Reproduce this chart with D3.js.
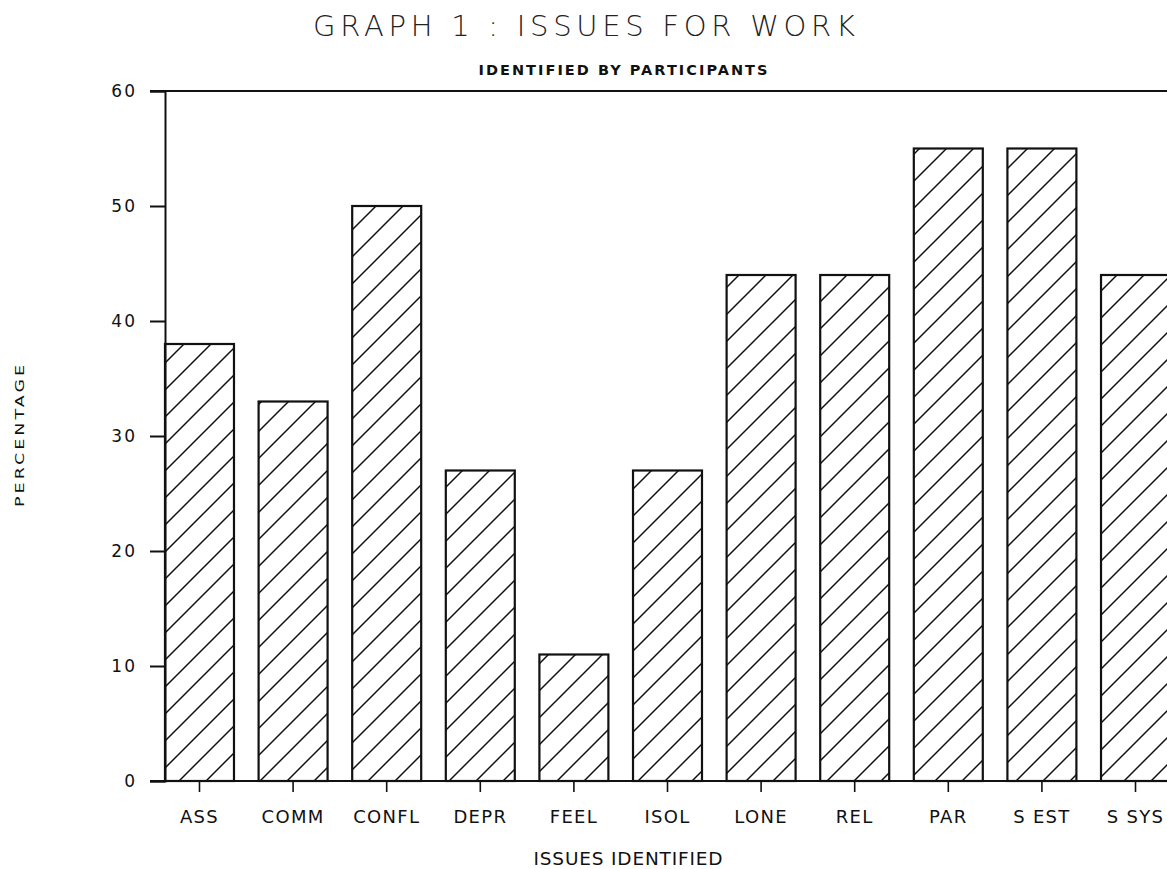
<html>
<head>
    <style>
        body {
            margin: 0;
            background: white;
            font-family: "DejaVu Sans", sans-serif;
        }
        svg { display: block; }
        .axis text { font-family: "DejaVu Sans", sans-serif; fill: #111; }
    </style>
    <script src="https://cdn.jsdelivr.net/npm/d3@7"></script>
</head>

<body>
    <svg id="chart"></svg>

    <script>

    // issues identified by participants
    let issues = ["ASS", "COMM", "CONFL", "DEPR", "FEEL", "ISOL", "LONE", "REL", "PAR", "S EST", "S SYS"]
    let percentages = [38, 33, 50, 27, 11, 27, 44, 44, 55, 55, 44]
    let yTicks = [0, 10, 20, 30, 40, 50, 60]

    let width = 1167
    let height = 869

    let svg = d3.select("#chart")
        .attr("width", width)
        .attr("height", height)

    let x = d3.scaleBand()
        .domain(issues)
        .range([165, 1170])
        .paddingInner(0.263)
        .paddingOuter(0)

    let y = d3.scaleLinear()
        .domain([0, 60])
        .range([781, 91])

    // hatch fill like the old plotter output
    let defs = svg.append("defs")
    let pat = defs.append("pattern")
        .attr("id", "hatch")
        .attr("patternUnits", "userSpaceOnUse")
        .attr("x", 15)
        .attr("y", 0)
        .attr("width", 27)
        .attr("height", 27)
    pat.append("rect").attr("width", 27).attr("height", 27).attr("fill", "white")
    pat.append("path")
        .attr("d", "M0,27 L27,0 M-3,3 L3,-3 M24,30 L30,24")
        .attr("stroke", "#111")
        .attr("stroke-width", 1.5)

    let rows = issues.map((d, i) => ({name: d, value: percentages[i]}))

    svg.selectAll("rect.bar").data(rows)
        .enter().append("rect")
        .attr("class", "bar")
        .attr("x", d => x(d.name))
        .attr("y", d => y(d.value))
        .attr("width", x.bandwidth())
        .attr("height", d => y(0) - y(d.value))
        .attr("fill", "url(#hatch)")
        .attr("stroke", "#111")
        .attr("stroke-width", 2.2)

    // frame lines: top at 60 and baseline at 0
    svg.append("line")
        .attr("x1", 150).attr("x2", width)
        .attr("y1", y(60)).attr("y2", y(60))
        .attr("stroke", "#111").attr("stroke-width", 2)
    svg.append("line")
        .attr("x1", 150).attr("x2", width)
        .attr("y1", y(0)).attr("y2", y(0))
        .attr("stroke", "#111").attr("stroke-width", 2.2)

    let yAxis = svg.append("g")
        .attr("class", "axis")
        .attr("transform", "translate(165,0)")
        .call(d3.axisLeft(y).tickValues(yTicks).tickSize(15).tickPadding(13).tickFormat(d3.format("d")))
    yAxis.select(".domain").attr("stroke", "#111").attr("stroke-width", 2)
    yAxis.selectAll(".tick line").attr("stroke", "#111").attr("stroke-width", 2)
    yAxis.selectAll("text").style("font-size", "17px").style("letter-spacing", "2px")

    let xAxis = svg.append("g")
        .attr("class", "axis")
        .attr("transform", "translate(0," + y(0) + ")")
        .call(d3.axisBottom(x).tickSize(11).tickPadding(18))
    xAxis.select(".domain").remove()
    xAxis.selectAll(".tick line").attr("stroke", "#111").attr("stroke-width", 1.6)
    xAxis.selectAll("text").style("font-size", "18px").style("letter-spacing", "1.3px")

    // titles
    svg.append("text")
        .attr("x", 584).attr("y", 36)
        .attr("text-anchor", "middle")
        .attr("textLength", 542)
        .attr("lengthAdjust", "spacing")
        .style("font-size", "29px")
        .style("font-weight", "300")
        .attr("fill", "#222")
        .text("GRAPH 1 : ISSUES FOR WORK")

    svg.append("text")
        .attr("x", 623).attr("y", 75)
        .attr("text-anchor", "middle")
        .attr("textLength", 289)
        .attr("lengthAdjust", "spacing")
        .style("font-size", "14.5px")
        .style("font-weight", "bold")
        .attr("fill", "#111")
        .text("IDENTIFIED BY PARTICIPANTS")

    // the plotter letters are wide, so stretch along the text direction
    svg.append("text")
        .attr("transform", "translate(24,436) rotate(-90) scale(1.45,1)")
        .attr("text-anchor", "middle")
        .attr("textLength", 98)
        .attr("lengthAdjust", "spacing")
        .style("font-size", "12px")
        .attr("fill", "#111")
        .text("PERCENTAGE")

    svg.append("text")
        .attr("x", 628).attr("y", 865)
        .attr("text-anchor", "middle")
        .attr("textLength", 189)
        .attr("lengthAdjust", "spacing")
        .style("font-size", "18.5px")
        .attr("fill", "#111")
        .text("ISSUES IDENTIFIED")

    </script>
</body>

</html>
